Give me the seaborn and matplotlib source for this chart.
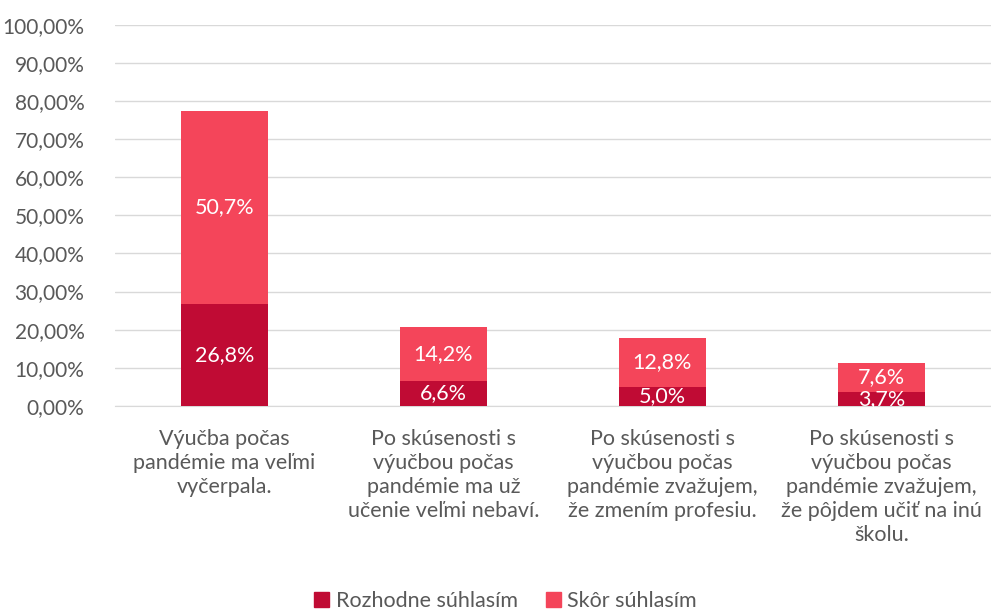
import matplotlib
matplotlib.use("Agg")
import matplotlib.pyplot as plt
import seaborn as sns
import pandas as pd
from matplotlib.patches import Patch
from matplotlib.ticker import FuncFormatter

# Data
categories = [
    "Výučba počas\npandémie ma veľmi\nvyčerpala.",
    "Po skúsenosti s\nvýučbou počas\npandémie ma už\nučenie veľmi nebaví.",
    "Po skúsenosti s\nvýučbou počas\npandémie zvažujem,\nže zmením profesiu.",
    "Po skúsenosti s\nvýučbou počas\npandémie zvažujem,\nže pôjdem učiť na inú\nškolu.",
]
rozhodne = [26.8, 6.6, 5.0, 3.7]
skor = [50.7, 14.2, 12.8, 7.6]
series_names = ["Rozhodne súhlasím", "Skôr súhlasím"]

dark = "#C00B34"
light = "#F4455A"
grey = "#595959"

sns.set_style("white")
plt.rcParams["font.family"] = ["Lato", "DejaVu Sans"]

df = pd.DataFrame({"cat": categories, "dark": rozhodne, "light": skor})
df["total"] = df["dark"] + df["light"]

fig = plt.figure(figsize=(9.91, 6.14), dpi=100)
ax = fig.add_axes([0.116, 0.339, 0.884, 0.6205])

# total bar (light) first, then the dark part on top of it
sns.barplot(data=df, x="cat", y="total", color=light, width=0.4, ax=ax,
            saturation=1, zorder=3, linewidth=0)
sns.barplot(data=df, x="cat", y="dark", color=dark, width=0.4, ax=ax,
            saturation=1, zorder=4, linewidth=0)

for i, row in df.iterrows():
    ax.text(i, row["dark"] / 2, f"{row['dark']:.1f}%".replace(".", ","),
            ha="center", va="center", color="white", fontsize=15.5, zorder=5)
    ax.text(i, row["dark"] + row["light"] / 2, f"{row['light']:.1f}%".replace(".", ","),
            ha="center", va="center", color="white", fontsize=15.5, zorder=5)

ax.set_ylim(0, 100)
ax.set_xlim(-0.5, 3.5)
ax.set_yticks(range(0, 101, 10))
ax.yaxis.set_major_formatter(FuncFormatter(lambda v, p: f"{v:.2f}%".replace(".", ",")))
ax.grid(axis="y", color="#D9D9D9", linewidth=1, zorder=0)
for s in ["top", "right", "left"]:
    ax.spines[s].set_visible(False)
ax.spines["bottom"].set_color("#D9D9D9")
ax.tick_params(axis="y", length=0, labelsize=15, labelcolor=grey, pad=22)
ax.tick_params(axis="x", length=0, labelsize=15.5, labelcolor=grey, pad=17)
ax.set_xlabel("")
ax.set_ylabel("")
for lbl in ax.get_xticklabels():
    lbl.set_linespacing(1.25)

handles = [Patch(color=dark, label=series_names[0]), Patch(color=light, label=series_names[1])]
fig.legend(handles=handles, loc="center", bbox_to_anchor=(0.51, 1 - 601 / 614), ncol=2,
           frameon=False, fontsize=15.5, labelcolor=grey, handlelength=0.7, handleheight=0.7,
           handletextpad=0.3, columnspacing=1.3)

fig.savefig("out.png", dpi=100)
